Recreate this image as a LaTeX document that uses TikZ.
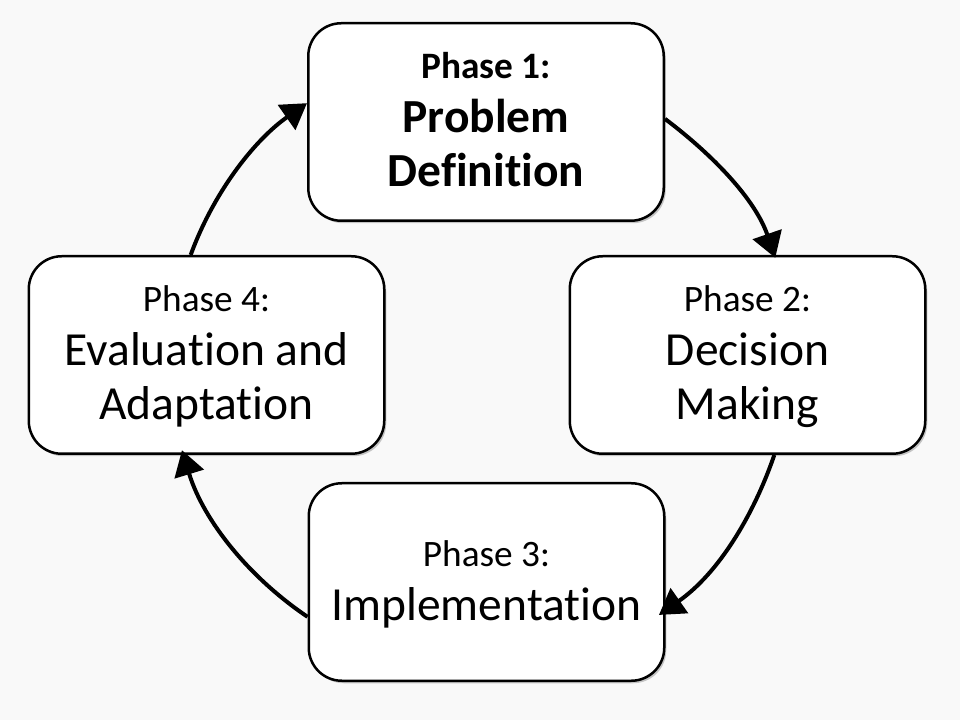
\documentclass[tikz,border=0pt]{standalone}
\usepackage{fontspec}
\setmainfont{Carlito}[Ligatures=NoCommon]
\usetikzlibrary{arrows.meta,shadows}
\definecolor{bgcol}{HTML}{F9F9F9}
\tikzset{
  phasebox/.style={draw=black, line width=2.5pt, fill=white, rounded corners=33pt,
    minimum width=355.5pt, minimum height=197.5pt, align=center, inner sep=0pt,
    font=\fontsize{47.5}{54}\selectfont,
    drop shadow={shadow xshift=2pt, shadow yshift=-2.5pt, opacity=0.3, fill=black!70}},
  cyc/.style={draw=black, line width=4pt, -{Triangle[length=25pt,width=30pt]}, looseness=0.87},
}
\newcommand{\phaseline}[1]{{\fontsize{37.3}{54}\selectfont\rule{0pt}{34pt}#1}}
\newcommand{\lastdepth}{\rule[-12pt]{0pt}{12pt}}
\begin{document}
\begin{tikzpicture}[x=1pt,y=1pt]
  \fill[bgcol] (0,0) rectangle (960,720);
  \useasboundingbox (0,0) rectangle (960,720);
  \node[phasebox, font=\fontsize{47.5}{54}\selectfont\bfseries] (b1) at (486,598)
    {\phaseline{Phase 1:}\\Problem\\Definition\lastdepth};
  \node[phasebox] (b2) at (747.5,365)
    {\phaseline{Phase 2:}\\Decision\\Making\lastdepth};
  \node[phasebox] (b3) at (486.5,138)
    {\phaseline{Phase 3:}\\Implementation\lastdepth};
  \node[phasebox] (b4) at (206.5,365)
    {\phaseline{Phase 4:}\\Evaluation and\\Adaptation\lastdepth};
  \draw[cyc, shorten >=-3pt] (b1.1) to[out=-37, in=109] (b2.75);
  \draw[cyc, shorten >=-8pt] (b2.-75) to[out=-109, in=35] (b3.-9);
  \draw[cyc, shorten >=-5pt] (b3.191) to[out=146, in=-73] (b4.257);
  \draw[cyc] (b4.99) to[out=70, in=-145] (b1.174);
\end{tikzpicture}
\end{document}
